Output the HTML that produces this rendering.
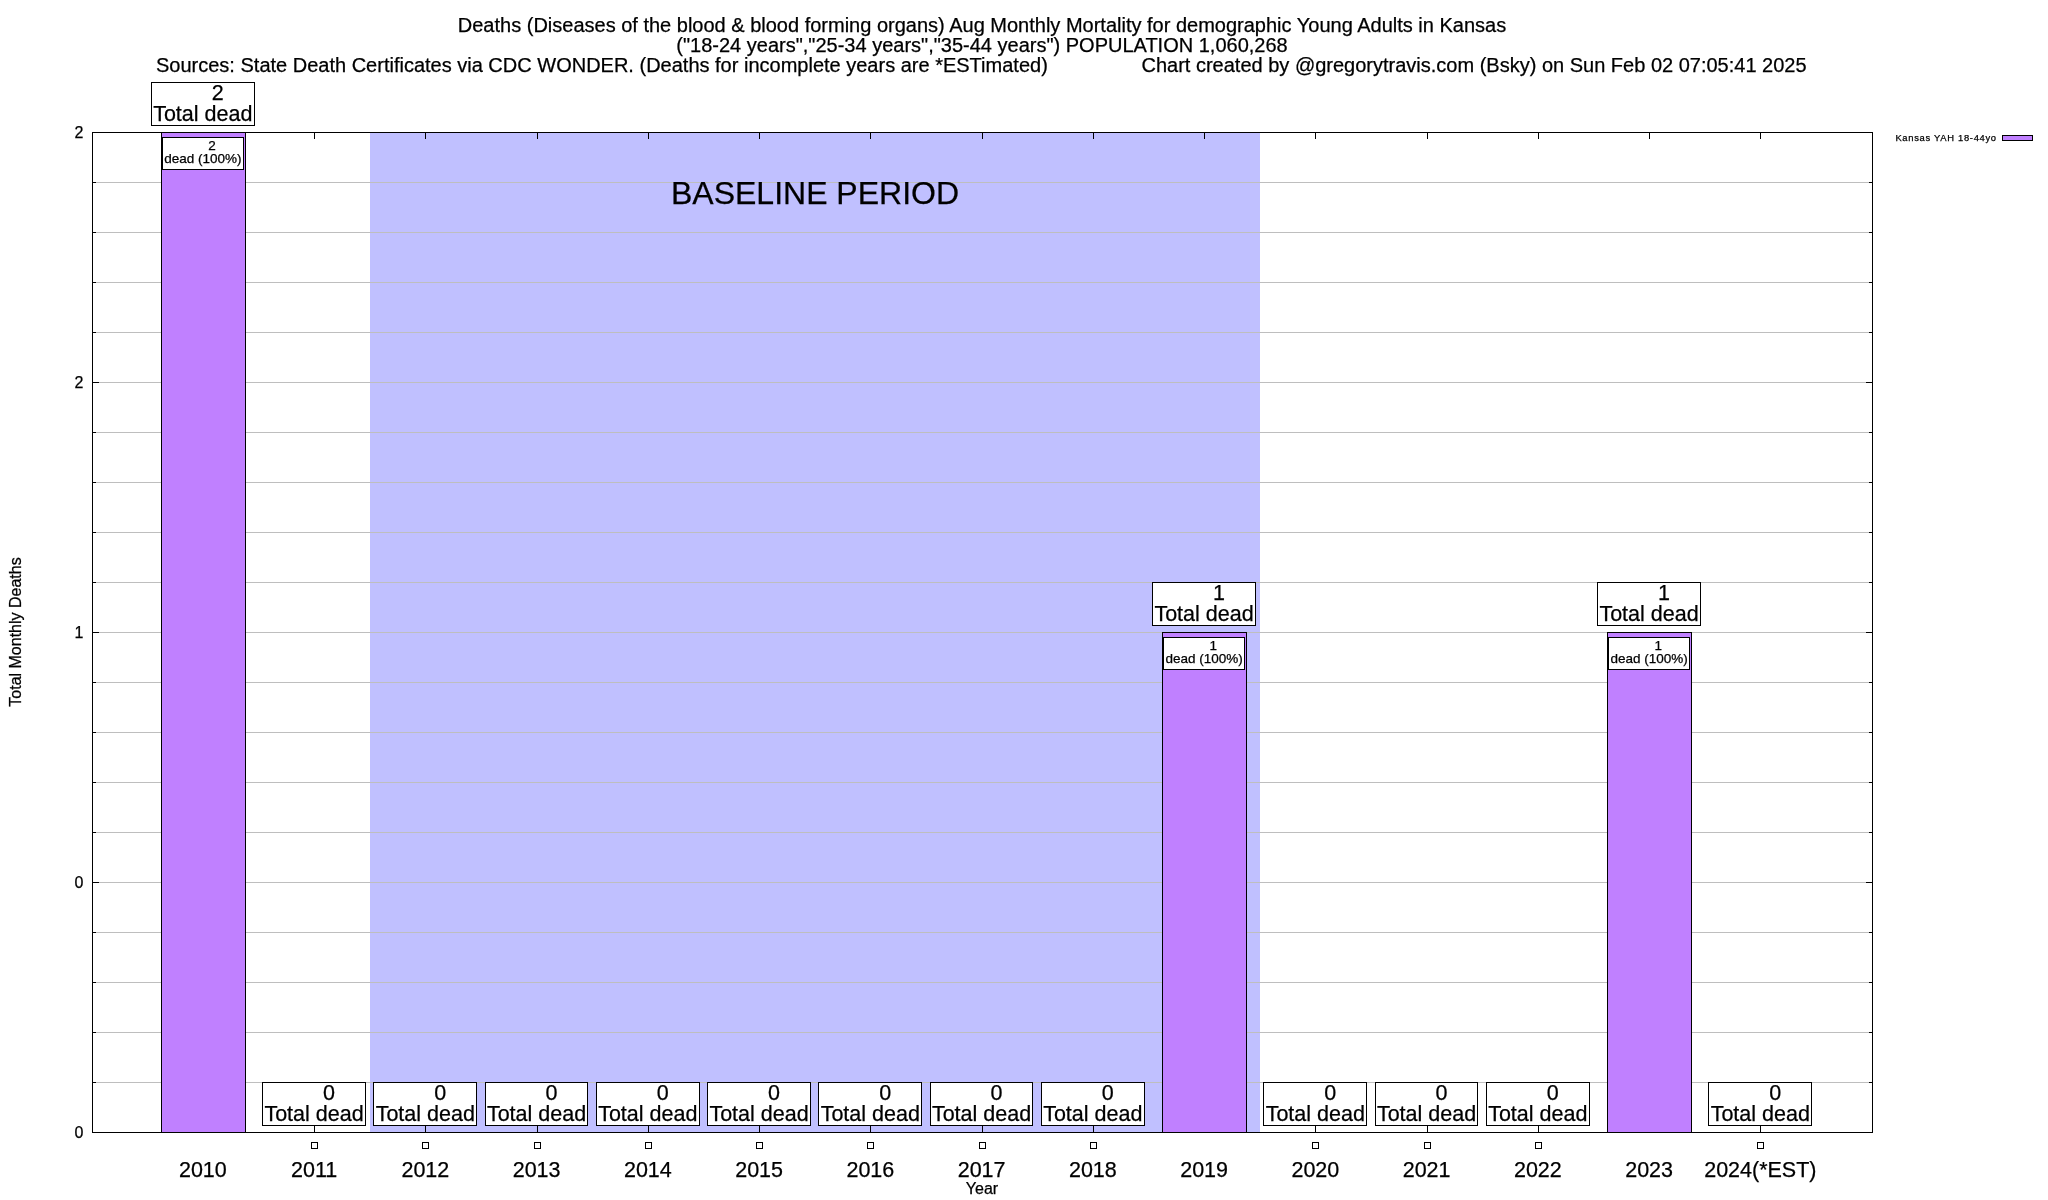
<!DOCTYPE html>
<html><head><meta charset="utf-8"><title>Deaths chart</title>
<style>html,body{margin:0;padding:0;background:#fff;}body{width:2048px;height:1200px;overflow:hidden;}svg{display:block;will-change:transform;}text{font-family:"Liberation Sans", Arial, Helvetica, sans-serif;fill:#000;stroke:#000;stroke-width:0.25px;}</style>
</head><body>
<svg width="2048" height="1200" viewBox="0 0 2048 1200">
<rect x="0" y="0" width="2048" height="1200" fill="#fff"/>
<rect x="370" y="132" width="890" height="1000" fill="#c0c0ff"/>
<path d="M93 182.5H1872M93 232.5H1872M93 282.5H1872M93 332.5H1872M93 382.5H1872M93 432.5H1872M93 482.5H1872M93 532.5H1872M93 582.5H1872M93 632.5H1872M93 682.5H1872M93 732.5H1872M93 782.5H1872M93 832.5H1872M93 882.5H1872M93 932.5H1872M93 982.5H1872M93 1032.5H1872M93 1082.5H1872" stroke="#bebebe" stroke-width="1" fill="none"/>
<text x="815" y="204" font-size="32" text-anchor="middle">BASELINE PERIOD</text>
<path d="M93 132.5h6M1872 132.5h-6M93 182.5h3M1872 182.5h-3M93 232.5h3M1872 232.5h-3M93 282.5h3M1872 282.5h-3M93 332.5h3M1872 332.5h-3M93 382.5h6M1872 382.5h-6M93 432.5h3M1872 432.5h-3M93 482.5h3M1872 482.5h-3M93 532.5h3M1872 532.5h-3M93 582.5h3M1872 582.5h-3M93 632.5h6M1872 632.5h-6M93 682.5h3M1872 682.5h-3M93 732.5h3M1872 732.5h-3M93 782.5h3M1872 782.5h-3M93 832.5h3M1872 832.5h-3M93 882.5h6M1872 882.5h-6M93 932.5h3M1872 932.5h-3M93 982.5h3M1872 982.5h-3M93 1032.5h3M1872 1032.5h-3M93 1082.5h3M1872 1082.5h-3M93 1132.5h6M1872 1132.5h-6M203.5 1132v-6M203.5 133v6M314.5 1132v-6M314.5 133v6M425.5 1132v-6M425.5 133v6M537.5 1132v-6M537.5 133v6M648.5 1132v-6M648.5 133v6M759.5 1132v-6M759.5 133v6M870.5 1132v-6M870.5 133v6M982.5 1132v-6M982.5 133v6M1093.5 1132v-6M1093.5 133v6M1204.5 1132v-6M1204.5 133v6M1315.5 1132v-6M1315.5 133v6M1427.5 1132v-6M1427.5 133v6M1538.5 1132v-6M1538.5 133v6M1649.5 1132v-6M1649.5 133v6M1760.5 1132v-6M1760.5 133v6" stroke="#000" stroke-width="1" fill="none"/>
<rect x="92.5" y="132.5" width="1780" height="1000" fill="none" stroke="#000" stroke-width="1"/>
<rect x="161.5" y="132.5" width="84" height="1000" fill="#c080ff" stroke="#000" stroke-width="1"/>
<rect x="1162.5" y="632.5" width="84" height="500" fill="#c080ff" stroke="#000" stroke-width="1"/>
<rect x="1607.5" y="632.5" width="84" height="500" fill="#c080ff" stroke="#000" stroke-width="1"/>
<text x="83.3" y="138.3" font-size="16" text-anchor="end">2</text>
<text x="83.3" y="388.3" font-size="16" text-anchor="end">2</text>
<text x="83.3" y="638.3" font-size="16" text-anchor="end">1</text>
<text x="83.3" y="888.3" font-size="16" text-anchor="end">0</text>
<text x="83.3" y="1138.3" font-size="16" text-anchor="end">0</text>
<text x="202.85" y="1177" font-size="21.5" text-anchor="middle">2010</text>
<text x="314.10" y="1177" font-size="21.5" text-anchor="middle">2011</text>
<text x="425.35" y="1177" font-size="21.5" text-anchor="middle">2012</text>
<text x="536.60" y="1177" font-size="21.5" text-anchor="middle">2013</text>
<text x="647.85" y="1177" font-size="21.5" text-anchor="middle">2014</text>
<text x="759.10" y="1177" font-size="21.5" text-anchor="middle">2015</text>
<text x="870.35" y="1177" font-size="21.5" text-anchor="middle">2016</text>
<text x="981.60" y="1177" font-size="21.5" text-anchor="middle">2017</text>
<text x="1092.85" y="1177" font-size="21.5" text-anchor="middle">2018</text>
<text x="1204.10" y="1177" font-size="21.5" text-anchor="middle">2019</text>
<text x="1315.35" y="1177" font-size="21.5" text-anchor="middle">2020</text>
<text x="1426.60" y="1177" font-size="21.5" text-anchor="middle">2021</text>
<text x="1537.85" y="1177" font-size="21.5" text-anchor="middle">2022</text>
<text x="1649.10" y="1177" font-size="21.5" text-anchor="middle">2023</text>
<text x="1760.35" y="1177" font-size="21.5" text-anchor="middle">2024(*EST)</text>
<rect x="151.5" y="82.5" width="103" height="43" fill="#fff" stroke="#000" stroke-width="1"/>
<text x="217.69" y="100.0" font-size="21.5" text-anchor="middle">2</text>
<text x="202.75" y="120.8" font-size="21.5" text-anchor="middle">Total dead</text>
<rect x="162.5" y="137.5" width="81" height="32" fill="#fff" stroke="#000" stroke-width="1"/>
<text x="212.13" y="150.0" font-size="13.5" text-anchor="middle">2</text>
<text x="202.95" y="163.0" font-size="13.5" text-anchor="middle">dead (100%)</text>
<rect x="262.5" y="1082.5" width="103" height="43" fill="#fff" stroke="#000" stroke-width="1"/>
<text x="328.94" y="1100.0" font-size="21.5" text-anchor="middle">0</text>
<text x="314.00" y="1120.8" font-size="21.5" text-anchor="middle">Total dead</text>
<rect x="311.5" y="1142.5" width="6" height="6" fill="none" stroke="#000" stroke-width="1"/>
<rect x="373.5" y="1082.5" width="103" height="43" fill="#fff" stroke="#000" stroke-width="1"/>
<text x="440.19" y="1100.0" font-size="21.5" text-anchor="middle">0</text>
<text x="425.25" y="1120.8" font-size="21.5" text-anchor="middle">Total dead</text>
<rect x="422.5" y="1142.5" width="6" height="6" fill="none" stroke="#000" stroke-width="1"/>
<rect x="485.5" y="1082.5" width="102" height="43" fill="#fff" stroke="#000" stroke-width="1"/>
<text x="551.44" y="1100.0" font-size="21.5" text-anchor="middle">0</text>
<text x="536.50" y="1120.8" font-size="21.5" text-anchor="middle">Total dead</text>
<rect x="534.5" y="1142.5" width="6" height="6" fill="none" stroke="#000" stroke-width="1"/>
<rect x="596.5" y="1082.5" width="103" height="43" fill="#fff" stroke="#000" stroke-width="1"/>
<text x="662.69" y="1100.0" font-size="21.5" text-anchor="middle">0</text>
<text x="647.75" y="1120.8" font-size="21.5" text-anchor="middle">Total dead</text>
<rect x="645.5" y="1142.5" width="6" height="6" fill="none" stroke="#000" stroke-width="1"/>
<rect x="707.5" y="1082.5" width="103" height="43" fill="#fff" stroke="#000" stroke-width="1"/>
<text x="773.94" y="1100.0" font-size="21.5" text-anchor="middle">0</text>
<text x="759.00" y="1120.8" font-size="21.5" text-anchor="middle">Total dead</text>
<rect x="756.5" y="1142.5" width="6" height="6" fill="none" stroke="#000" stroke-width="1"/>
<rect x="818.5" y="1082.5" width="103" height="43" fill="#fff" stroke="#000" stroke-width="1"/>
<text x="885.19" y="1100.0" font-size="21.5" text-anchor="middle">0</text>
<text x="870.25" y="1120.8" font-size="21.5" text-anchor="middle">Total dead</text>
<rect x="867.5" y="1142.5" width="6" height="6" fill="none" stroke="#000" stroke-width="1"/>
<rect x="930.5" y="1082.5" width="102" height="43" fill="#fff" stroke="#000" stroke-width="1"/>
<text x="996.44" y="1100.0" font-size="21.5" text-anchor="middle">0</text>
<text x="981.50" y="1120.8" font-size="21.5" text-anchor="middle">Total dead</text>
<rect x="979.5" y="1142.5" width="6" height="6" fill="none" stroke="#000" stroke-width="1"/>
<rect x="1041.5" y="1082.5" width="103" height="43" fill="#fff" stroke="#000" stroke-width="1"/>
<text x="1107.69" y="1100.0" font-size="21.5" text-anchor="middle">0</text>
<text x="1092.75" y="1120.8" font-size="21.5" text-anchor="middle">Total dead</text>
<rect x="1090.5" y="1142.5" width="6" height="6" fill="none" stroke="#000" stroke-width="1"/>
<rect x="1152.5" y="582.5" width="103" height="43" fill="#fff" stroke="#000" stroke-width="1"/>
<text x="1218.94" y="600.0" font-size="21.5" text-anchor="middle">1</text>
<text x="1204.00" y="620.8" font-size="21.5" text-anchor="middle">Total dead</text>
<rect x="1163.5" y="637.5" width="81" height="32" fill="#fff" stroke="#000" stroke-width="1"/>
<text x="1213.38" y="650.0" font-size="13.5" text-anchor="middle">1</text>
<text x="1204.20" y="663.0" font-size="13.5" text-anchor="middle">dead (100%)</text>
<rect x="1263.5" y="1082.5" width="103" height="43" fill="#fff" stroke="#000" stroke-width="1"/>
<text x="1330.19" y="1100.0" font-size="21.5" text-anchor="middle">0</text>
<text x="1315.25" y="1120.8" font-size="21.5" text-anchor="middle">Total dead</text>
<rect x="1312.5" y="1142.5" width="6" height="6" fill="none" stroke="#000" stroke-width="1"/>
<rect x="1375.5" y="1082.5" width="102" height="43" fill="#fff" stroke="#000" stroke-width="1"/>
<text x="1441.44" y="1100.0" font-size="21.5" text-anchor="middle">0</text>
<text x="1426.50" y="1120.8" font-size="21.5" text-anchor="middle">Total dead</text>
<rect x="1424.5" y="1142.5" width="6" height="6" fill="none" stroke="#000" stroke-width="1"/>
<rect x="1486.5" y="1082.5" width="103" height="43" fill="#fff" stroke="#000" stroke-width="1"/>
<text x="1552.69" y="1100.0" font-size="21.5" text-anchor="middle">0</text>
<text x="1537.75" y="1120.8" font-size="21.5" text-anchor="middle">Total dead</text>
<rect x="1535.5" y="1142.5" width="6" height="6" fill="none" stroke="#000" stroke-width="1"/>
<rect x="1597.5" y="582.5" width="103" height="43" fill="#fff" stroke="#000" stroke-width="1"/>
<text x="1663.94" y="600.0" font-size="21.5" text-anchor="middle">1</text>
<text x="1649.00" y="620.8" font-size="21.5" text-anchor="middle">Total dead</text>
<rect x="1608.5" y="637.5" width="81" height="32" fill="#fff" stroke="#000" stroke-width="1"/>
<text x="1658.38" y="650.0" font-size="13.5" text-anchor="middle">1</text>
<text x="1649.20" y="663.0" font-size="13.5" text-anchor="middle">dead (100%)</text>
<rect x="1708.5" y="1082.5" width="103" height="43" fill="#fff" stroke="#000" stroke-width="1"/>
<text x="1775.19" y="1100.0" font-size="21.5" text-anchor="middle">0</text>
<text x="1760.25" y="1120.8" font-size="21.5" text-anchor="middle">Total dead</text>
<rect x="1757.5" y="1142.5" width="6" height="6" fill="none" stroke="#000" stroke-width="1"/>
<text x="982" y="32" font-size="20" text-anchor="middle">Deaths (Diseases of the blood &amp; blood forming organs) Aug Monthly Mortality for demographic Young Adults in Kansas</text>
<text x="982" y="52" font-size="20" text-anchor="middle">("18-24 years","25-34 years","35-44 years") POPULATION 1,060,268</text>
<text x="156" y="72" font-size="20">Sources: State Death Certificates via CDC WONDER. (Deaths for incomplete years are *ESTimated)</text>
<text x="1141.5" y="72" font-size="20">Chart created by @gregorytravis.com (Bsky) on Sun Feb 02 07:05:41 2025</text>
<text x="982" y="1194" font-size="16" text-anchor="middle">Year</text>
<text transform="translate(20.7 632) rotate(-90)" x="0" y="0" font-size="16" text-anchor="middle">Total Monthly Deaths</text>
<text x="1895.4" y="141" font-size="9.4" letter-spacing="0.7">Kansas YAH 18-44yo</text>
<rect x="2002.5" y="135.5" width="30" height="5" fill="#c080ff" stroke="#000" stroke-width="1"/>
</svg></body></html>
